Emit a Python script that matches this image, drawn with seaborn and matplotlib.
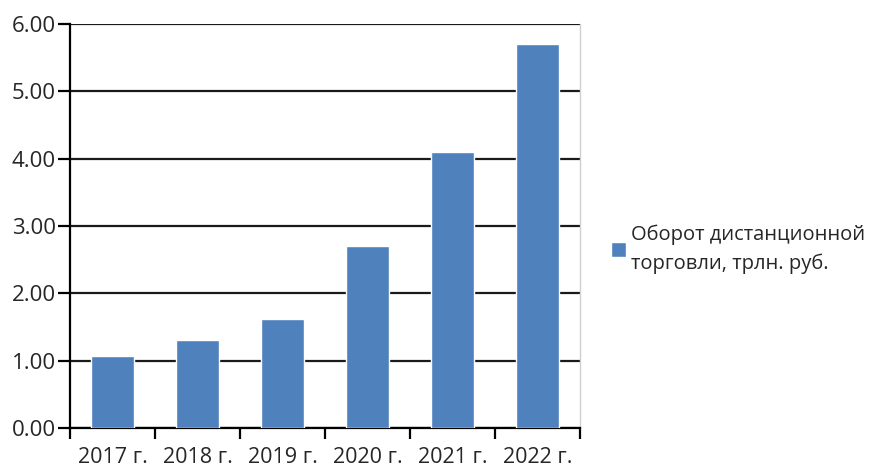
import matplotlib
matplotlib.use("Agg")
import matplotlib.pyplot as plt
import seaborn as sns
import pandas as pd
import numpy as np
from matplotlib.ticker import FixedLocator, FormatStrFormatter

years = ["2017 г.", "2018 г.", "2019 г.", "2020 г.", "2021 г.", "2022 г."]
values = [1.07, 1.30, 1.62, 2.70, 4.10, 5.71]
series_name = "Оборот дистанционной\nторговли, трлн. руб."

sns.set_theme(style="white")
plt.rcParams['font.family'] = ['Open Sans', 'DejaVu Sans']

df = pd.DataFrame({"year": years, "value": values})

fig = plt.figure(figsize=(8.89, 4.70), dpi=100)
ax = fig.add_axes([70 / 889, (470 - 428) / 470, 510 / 889, 404 / 470])

sns.barplot(data=df, x="year", y="value", color="#4F81BD", width=0.5,
            saturation=1, ax=ax, zorder=3, label=series_name)

ax.set_ylim(0, 6)
ax.set_xlim(-0.5, len(years) - 0.5)
ax.set_yticks(np.arange(0, 6.01, 1))
ax.yaxis.set_major_formatter(FormatStrFormatter("%.2f"))
ax.yaxis.grid(True, color="#1a1a1a", linewidth=1.6, zorder=0)
ax.set_axisbelow(True)
ax.set_xlabel("")
ax.set_ylabel("")

for s in ["left", "bottom"]:
    ax.spines[s].set_color("black")
    ax.spines[s].set_linewidth(1.6)
ax.spines["top"].set_visible(False)
ax.spines["right"].set_color("#d0d0d0")
ax.spines["right"].set_linewidth(1.0)

ax.xaxis.set_minor_locator(FixedLocator(np.arange(-0.5, len(years), 1.0)))
ax.tick_params(axis="x", which="major", length=0, labelsize=15.5, colors="#262626", pad=14)
ax.tick_params(axis="x", which="minor", length=8, width=1.6, color="black", bottom=True)
ax.tick_params(axis="y", which="major", length=9, width=1.6, color="black", left=True,
               labelsize=16, labelcolor="#262626", pad=1)

leg = ax.legend(loc="center left", bbox_to_anchor=(593 / 889, (470 - 249) / 470),
                bbox_transform=fig.transFigure, frameon=False, fontsize=14.5,
                handlelength=0.75, handleheight=0.75, handletextpad=0.25,
                labelcolor="#262626")
for t in leg.get_texts():
    t.set_linespacing(1.55)

fig.savefig("out.png", dpi=100)
